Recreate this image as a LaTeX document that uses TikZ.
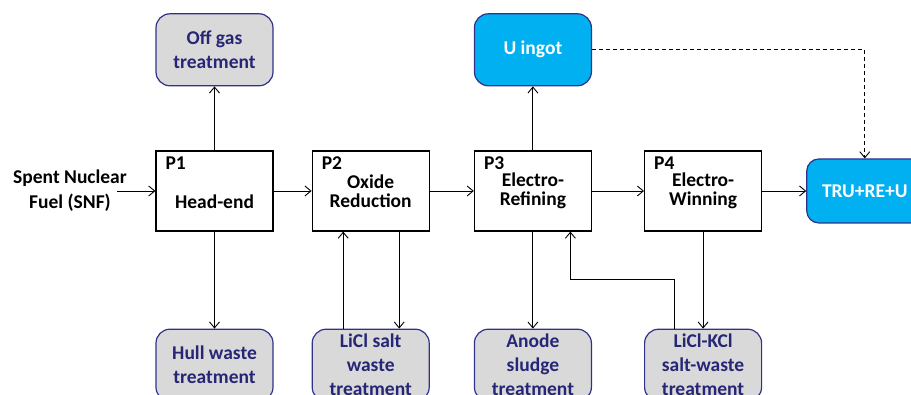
\documentclass[tikz,border=0pt]{standalone}
\usepackage{fontspec}
\setmainfont{Carlito}
\usetikzlibrary{arrows.meta, positioning}
\definecolor{cNavy}{RGB}{38,38,118}
\definecolor{cEdge}{RGB}{48,50,138}
\definecolor{cGrey}{RGB}{217,217,217}
\definecolor{cSky}{RGB}{0,176,240}
\tikzset{
	procbox/.style ={rectangle, draw=black, line width=1.2pt, minimum width=117pt, minimum height=80pt, align=center, inner sep=0pt, font=\fontsize{19.5}{19.5}\selectfont\bfseries},
	treatbox/.style={rectangle, rounded corners=14pt, draw=cEdge, line width=1.2pt, fill=cGrey, text=cNavy, minimum width=117pt, minimum height=72pt, align=center, inner sep=0pt},
	prodbox/.style ={treatbox, fill=cSky, text=white},
	plabel/.style  ={anchor=north west, inner sep=0pt, xshift=10pt, yshift=-6pt, font=\fontsize{19.5}{19.5}\selectfont\bfseries},
	sig/.style     ={-{Straight Barb[length=6pt, width=10pt]}, line width=0.9pt},
}
\begin{document}
\begin{tikzpicture}[x=1pt, y=1pt, font=\fontsize{19.5}{24}\selectfont\bfseries]
	\useasboundingbox (0,0) rectangle (911,395);
	\clip (0,0) rectangle (911,395);
	% process steps
	\node[procbox, label={[plabel, name=p1lab]north west:P1}] (p1) at (214.5,204) {\strut\\Head-end};
	\node[procbox, right=38pt of p1, label={[plabel, name=p2lab]north west:P2}] (p2) {Oxide\\Reduction};
	\node[procbox, right=44pt of p2, label={[plabel, name=p3lab]north west:P3}] (p3) {Electro-\\Refining};
	\node[procbox, right=52pt of p3, label={[plabel, name=p4lab]north west:P4}] (p4) {Electro-\\Winning};
	\node[prodbox, right=44pt of p4, minimum width=116pt, minimum height=64pt, rounded corners=12pt] (tru) {TRU+RE+U};
	% feed
	\node[align=center, font=\fontsize{19.5}{25}\selectfont\bfseries] (snf) at (70,204) {Spent Nuclear\\Fuel (SNF)};
	\coordinate (snfin) at (117,204);
	% products and wastes
	\node[treatbox, above=64pt of p1] (offgas) {Off gas\\treatment};
	\node[prodbox, above=64pt of p3] (uingot) {U ingot};
	\node[treatbox, below=97pt of p1] (hull) {Hull waste\\treatment};
	\node[treatbox, below=97pt of p2] (licl) {LiCl salt\\waste\\treatment};
	\node[treatbox, below=97pt of p3] (anode) {Anode\\sludge\\treatment};
	\node[treatbox, below=97pt of p4] (lkcl) {LiCl-KCl\\salt-waste\\treatment};
	% main line
	\draw[sig] (snfin) -- (p1);
	\draw[sig] (p1) -- (p2);
	\draw[sig] (p2) -- (p3);
	\draw[sig] (p3) -- (p4);
	\draw[sig] (p4) -- (tru);
	% side streams
	\draw[sig] (p1) -- (offgas);
	\draw[sig] (p1) -- (hull);
	\draw[sig] ([xshift=-27.5pt]licl.north) -- ([xshift=-27.5pt]p2.south);
	\draw[sig] ([xshift=28.5pt]p2.south) -- ([xshift=28.5pt]licl.north);
	\draw[sig] (p3) -- (uingot);
	\draw[sig] (p3) -- (anode);
	\draw[sig] (p4) -- (lkcl);
	\draw[sig] ([xshift=-28.5pt]lkcl.north) -- ++(0,49) -| ([xshift=37.5pt]p3.south);
	\draw[sig, dash pattern=on 4pt off 3pt] (uingot.east) -| (tru.north);
\end{tikzpicture}
\end{document}
